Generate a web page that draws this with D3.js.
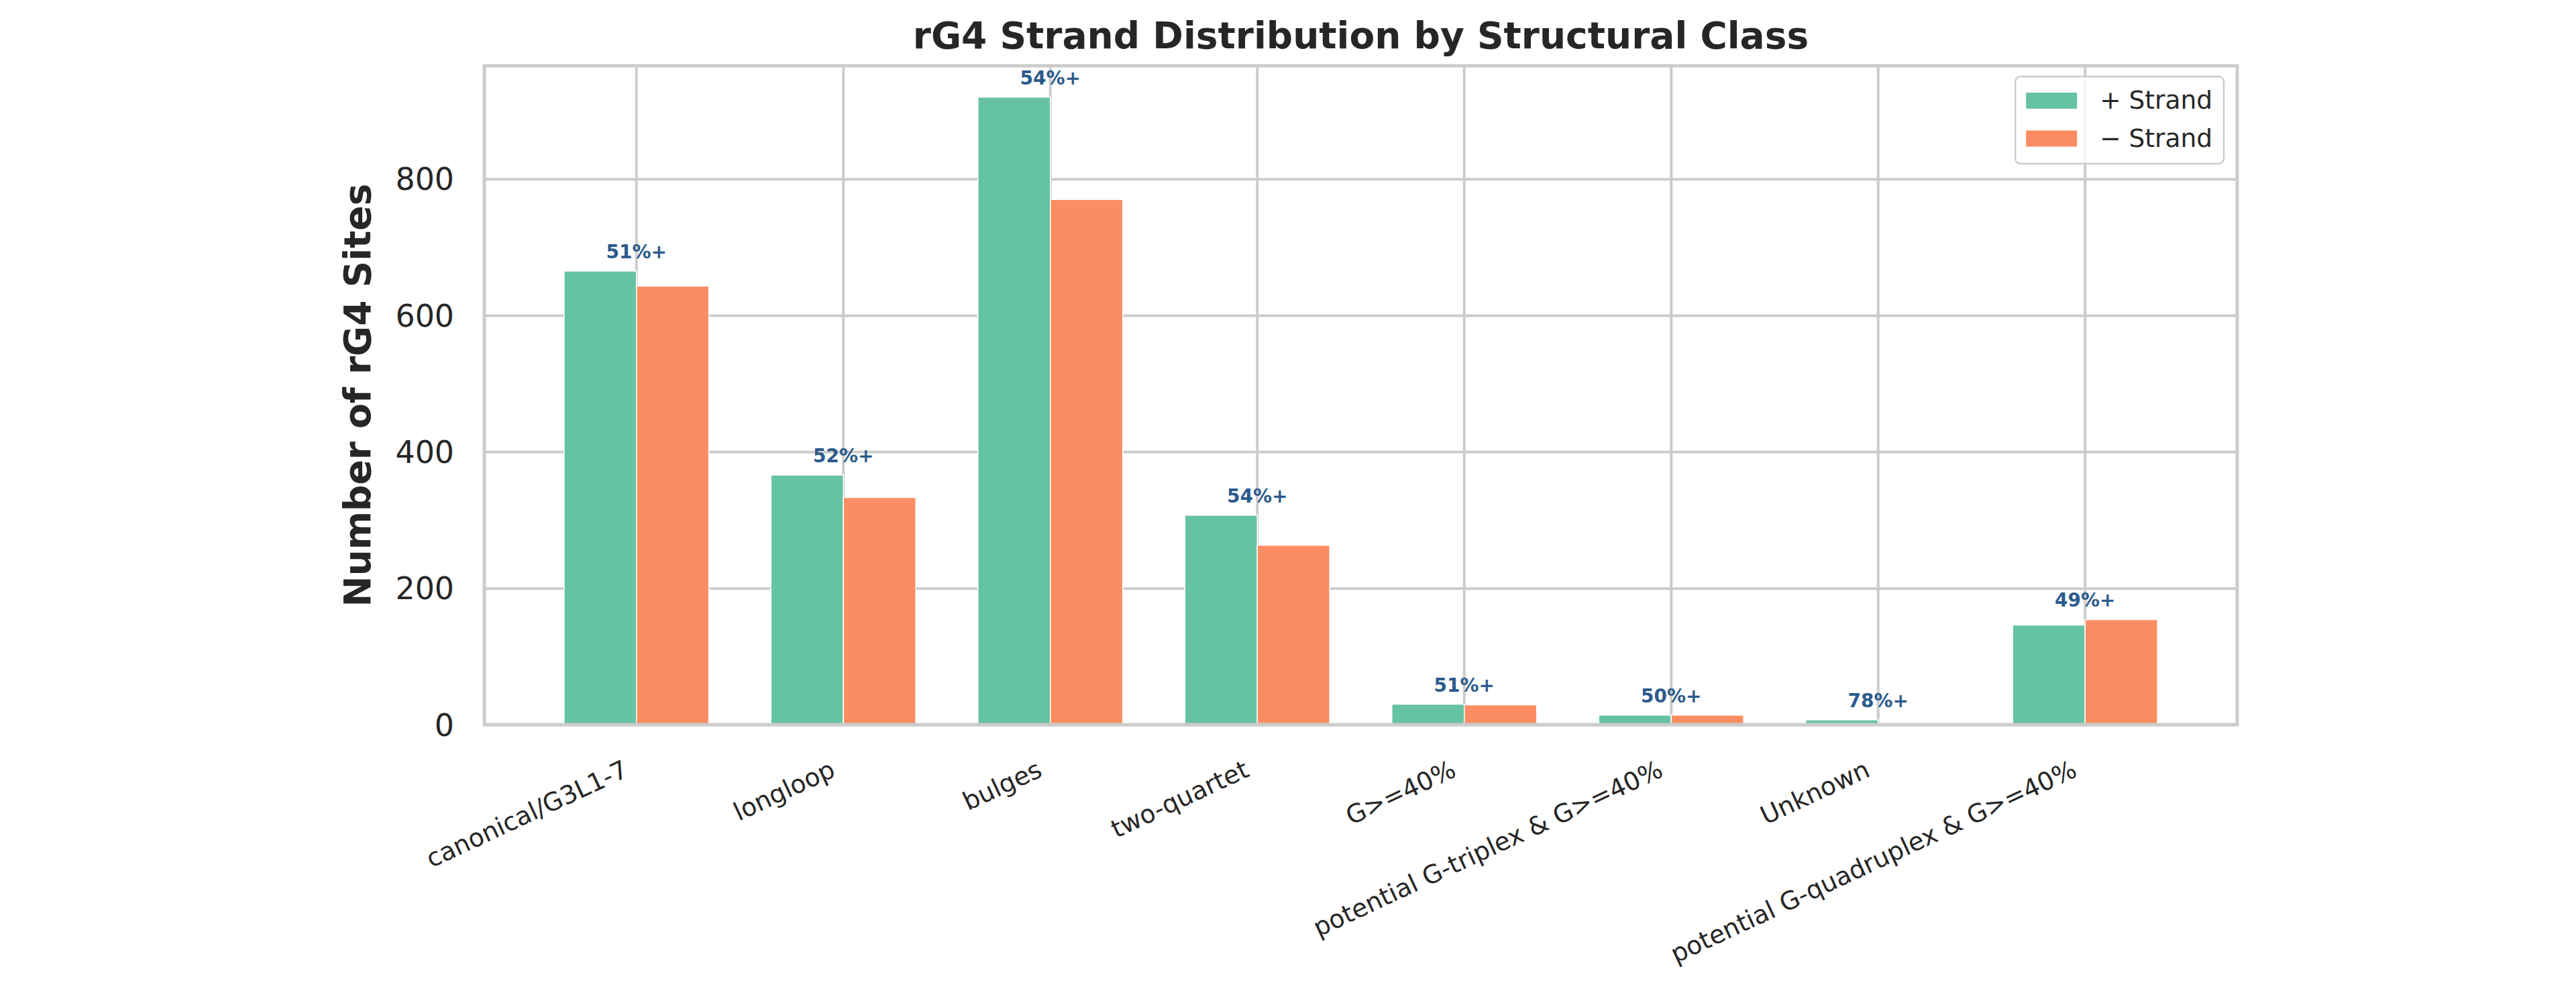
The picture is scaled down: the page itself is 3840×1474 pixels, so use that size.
<!DOCTYPE html>
<html>
<head>
<meta charset="utf-8">
<script src="https://cdn.jsdelivr.net/npm/d3@7"></script>
<style>
    body { margin: 0; background: #ffffff; }
    text { font-family: "DejaVu Sans", sans-serif; }
</style>
</head>
<body>
<div id="chart"></div>
<script>
const categories = [
    "canonical/G3L1-7",
    "longloop",
    "bulges",
    "two-quartet",
    "G>=40%",
    "potential G-triplex & G>=40%",
    "Unknown",
    "potential G-quadruplex & G>=40%"
];
const plusCounts = [665, 366, 920, 307, 30, 14, 7, 146];
const minusCounts = [643, 333, 770, 263, 29, 14, 2, 154];
const yTicks = [0, 200, 400, 600, 800];
const seriesNames = ["+ Strand", "\u2212 Strand"];
const seriesColors = ["#66c2a5", "#fc8d62"];

const gridColor = "#cccccc";
const textColor = "#262626";
const pctColor = "#2b5b8c";

/**
 * Draws the grouped bar chart of + / - strand counts per structural class,
 * with the share of + strand sites written above each pair.
 */
function renderStrandChart() {
    const W = 3840, H = 1474;
    const margin = { top: 98, right: 505, bottom: 394, left: 722 };
    const width = W - margin.left - margin.right,
        height = H - margin.top - margin.bottom;

    const svg = d3.select("#chart").append("svg")
        .attr("width", W)
        .attr("height", H)
        .style("background", "#fff");

    const g = svg.append("g")
        .attr("transform", `translate(${margin.left},${margin.top})`);

    // band scale with matplotlib-like outer margins
    const x = d3.scaleBand()
        .domain(categories)
        .range([0, width])
        .paddingInner(0)
        .paddingOuter(0.235);
    const barW = x.step() * 0.35;
    const center = c => x(c) + x.bandwidth() / 2;

    const y = d3.scaleLinear()
        .domain([0, d3.max(plusCounts.concat(minusCounts)) * 1.05])
        .range([height, 0]);

    // y axis + horizontal grid
    const yAxis = g.append("g")
        .call(d3.axisLeft(y).tickValues(yTicks).tickSize(-width).tickPadding(45));
    yAxis.select(".domain").remove();
    yAxis.selectAll(".tick line")
        .attr("stroke", gridColor)
        .attr("stroke-width", 4);
    yAxis.selectAll(".tick text")
        .attr("fill", textColor)
        .attr("dy", "0.35em")
        .style("font-size", "45.8px");

    // x axis + vertical grid
    const xAxis = g.append("g")
        .attr("transform", `translate(0,${height})`)
        .call(d3.axisBottom(x).tickSize(-height));
    xAxis.select(".domain").remove();
    xAxis.selectAll(".tick line")
        .attr("stroke", gridColor)
        .attr("stroke-width", 4);
    xAxis.selectAll(".tick text")
        .attr("fill", textColor)
        .attr("text-anchor", "end")
        .attr("x", 0)
        .attr("y", 0)
        .attr("dy", null)
        .attr("transform", "translate(-10,76) rotate(-25)")
        .style("font-size", "37.5px");

    // bars
    const series = [plusCounts, minusCounts];
    series.forEach((values, si) => {
        g.append("g")
            .attr("fill", seriesColors[si])
            .selectAll("rect")
            .data(categories)
            .join("rect")
            .attr("x", c => si === 0 ? center(c) - barW : center(c))
            .attr("y", (c, i) => y(values[i]))
            .attr("width", barW)
            .attr("height", (c, i) => y(0) - y(values[i]))
            .attr("stroke", "#ffffff")
            .attr("stroke-width", 1.5);
    });

    // spines
    g.append("rect")
        .attr("width", width)
        .attr("height", height)
        .attr("fill", "none")
        .attr("stroke", gridColor)
        .attr("stroke-width", 5);

    // percent of + strand above each pair
    g.append("g")
        .selectAll("text")
        .data(categories)
        .join("text")
        .attr("x", center)
        .attr("y", (c, i) => y(Math.max(plusCounts[i], minusCounts[i])) - 19)
        .attr("text-anchor", "middle")
        .attr("fill", pctColor)
        .style("font-size", "28px")
        .style("font-weight", "bold")
        .text((c, i) => Math.round(100 * plusCounts[i] / (plusCounts[i] + minusCounts[i])) + "%+");

    // title
    svg.append("text")
        .attr("x", margin.left + width / 2)
        .attr("y", 72)
        .attr("text-anchor", "middle")
        .attr("fill", textColor)
        .style("font-size", "55px")
        .style("font-weight", "bold")
        .text("rG4 Strand Distribution by Structural Class");

    // y label
    svg.append("text")
        .attr("transform", `translate(552,${margin.top + height / 2}) rotate(-90)`)
        .attr("text-anchor", "middle")
        .attr("fill", textColor)
        .style("font-size", "55px")
        .style("font-weight", "bold")
        .text("Number of rG4 Sites");

    drawLegend(g, width);
}

/**
 * Legend box in the upper right corner of the axes.
 */
function drawLegend(g, width) {
    const legend = g.append("g");
    const box = legend.append("rect")
        .attr("rx", 8)
        .attr("fill", "#ffffff")
        .attr("fill-opacity", 0.8)
        .attr("stroke", gridColor)
        .attr("stroke-width", 2.5);

    const rowY = [36, 92.5];
    const texts = [];
    seriesNames.forEach((name, i) => {
        legend.append("rect")
            .attr("x", 16)
            .attr("y", rowY[i] - 12)
            .attr("width", 76)
            .attr("height", 24)
            .attr("fill", seriesColors[i]);
        texts.push(legend.append("text")
            .attr("x", 126)
            .attr("y", rowY[i])
            .attr("dy", "0.33em")
            .attr("fill", textColor)
            .style("font-size", "37.5px")
            .text(name));
    });

    const textW = d3.max(texts, t => t.node().getComputedTextLength());
    const boxW = 126 + textW + 17;
    box.attr("width", boxW).attr("height", 130);
    legend.attr("transform", `translate(${width - 20 - boxW},16)`);
}

renderStrandChart();
</script>
</body>
</html>
